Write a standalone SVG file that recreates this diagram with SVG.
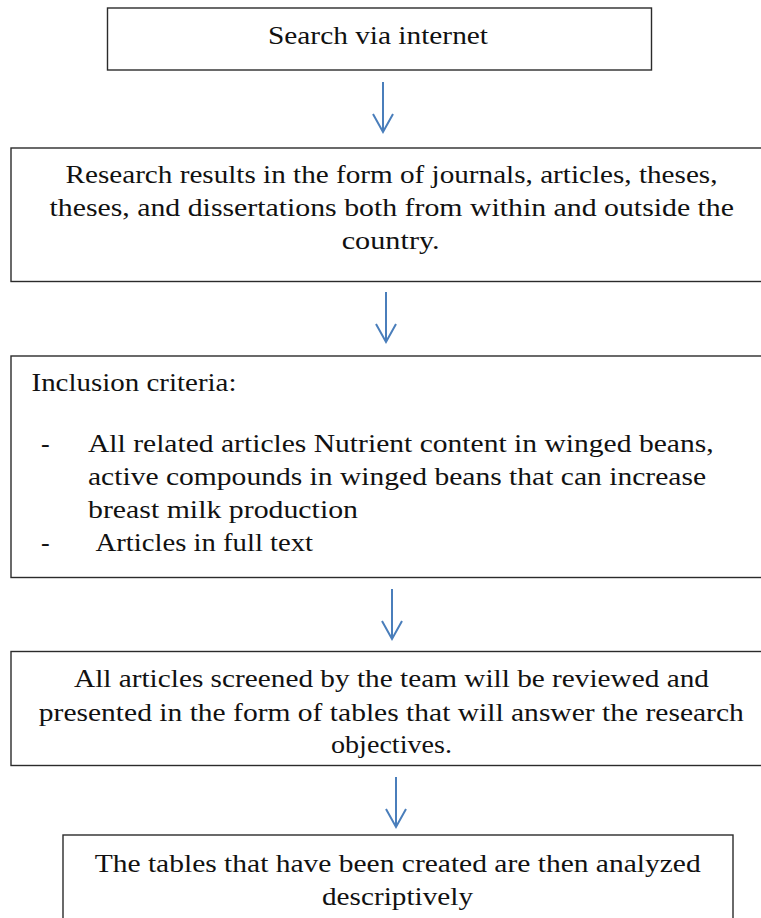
<svg xmlns="http://www.w3.org/2000/svg" width="761" height="918" viewBox="0 0 761 918">
<defs>
<style>
.box{fill:#ffffff;stroke:#2b2b2b;stroke-width:1.4}
.t{font-family:"Liberation Serif","Times New Roman",serif;font-size:26px;fill:#111111}
.conn line,.conn polyline{stroke:#4a7ebb;stroke-width:2;fill:none}
</style>
</defs>
<rect x="0" y="0" width="761" height="918" fill="#ffffff"/>
<g id="connectors" class="conn">
<line x1="383" y1="82" x2="383" y2="132"/>
<polyline points="373,114 383,132 393,114"/>
<line x1="386" y1="292" x2="386" y2="342"/>
<polyline points="376,324 386,342 396,324"/>
<line x1="392" y1="589" x2="392" y2="639"/>
<polyline points="382,621 392,639 402,621"/>
<line x1="396" y1="777" x2="396" y2="827"/>
<polyline points="386,809 396,827 406,809"/>
</g>
<g id="node1">
<rect class="box" x="107.5" y="8" width="544" height="62"/>
<text class="t" x="268" y="44" textLength="220" lengthAdjust="spacingAndGlyphs">Search via internet</text>
</g>
<g id="node2">
<rect class="box" x="11" y="148" width="760" height="133.5"/>
<text class="t" x="65.5" y="183" textLength="652" lengthAdjust="spacingAndGlyphs">Research results in the form of journals, articles, theses,</text>
<text class="t" x="49.5" y="216" textLength="684.5" lengthAdjust="spacingAndGlyphs">theses, and dissertations both from within and outside the</text>
<text class="t" x="341.7" y="249" textLength="98" lengthAdjust="spacingAndGlyphs">country.</text>
</g>
<g id="node3">
<rect class="box" x="11" y="356" width="760" height="221.5"/>
<text class="t" x="31.5" y="391" textLength="205" lengthAdjust="spacingAndGlyphs">Inclusion criteria:</text>
<text class="t" x="41" y="452">-</text>
<text class="t" x="88" y="452" textLength="625.6" lengthAdjust="spacingAndGlyphs">All related articles Nutrient content in winged beans,</text>
<text class="t" x="88" y="485" textLength="618" lengthAdjust="spacingAndGlyphs">active compounds in winged beans that can increase</text>
<text class="t" x="88" y="518" textLength="270" lengthAdjust="spacingAndGlyphs">breast milk production</text>
<text class="t" x="41" y="551">-</text>
<text class="t" x="95.6" y="551" textLength="217.5" lengthAdjust="spacingAndGlyphs">Articles in full text</text>
</g>
<g id="node4">
<rect class="box" x="11" y="651.5" width="760" height="114"/>
<text class="t" x="74" y="687" textLength="635" lengthAdjust="spacingAndGlyphs">All articles screened by the team will be reviewed and</text>
<text class="t" x="38.8" y="720.5" textLength="705" lengthAdjust="spacingAndGlyphs">presented in the form of tables that will answer the research</text>
<text class="t" x="331" y="753" textLength="121" lengthAdjust="spacingAndGlyphs">objectives.</text>
</g>
<g id="node5">
<rect class="box" x="63" y="835" width="670" height="100"/>
<text class="t" x="94.7" y="872" textLength="606" lengthAdjust="spacingAndGlyphs">The tables that have been created are then analyzed</text>
<text class="t" x="322" y="904.5" textLength="151" lengthAdjust="spacingAndGlyphs">descriptively</text>
</g>
</svg>
